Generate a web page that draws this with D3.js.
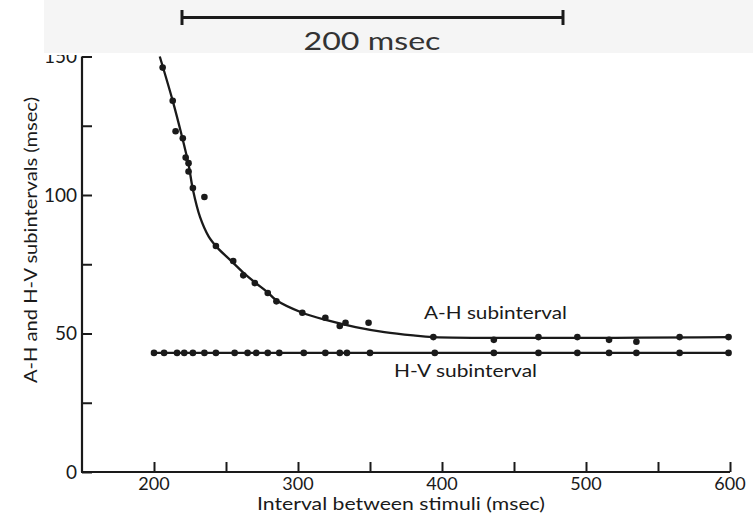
<!DOCTYPE html>
<html><head><meta charset="utf-8">
<script src="https://cdn.jsdelivr.net/npm/d3@7"></script>
<style>body{margin:0;background:#fff;overflow:hidden}</style>
</head><body>
<script>
// ---- data ----
const xTicks = [200, 250, 300, 350, 400, 450, 500, 550, 600];
const xTickLabels = [200, 300, 400, 500, 600];
const yTicks = [0, 25, 50, 75, 100, 125, 150];
const yTickLabels = [0, 50, 100, 150];

const ahX = [206, 213, 215, 220, 222, 224, 224, 227, 235, 243, 255, 262, 270, 279, 285, 303, 319, 329, 333, 349, 394, 436, 467, 494, 516, 535, 565, 599];
const ahY = [146, 134, 123, 120.5, 113.5, 111.5, 108.5, 102.5, 99.3, 81.6, 76.2, 71, 68.2, 64.6, 61.6, 57.5, 55.7, 52.7, 53.9, 53.9, 48.7, 47.7, 48.7, 48.7, 47.7, 47, 48.7, 48.7];

const hvX = [200, 207, 216, 221, 227, 235, 243, 256, 265, 271, 279, 287, 304, 319, 329, 334, 350, 395, 436, 467, 494, 516, 535, 565, 599];
const hvY = [43, 43, 43, 43, 43, 43, 43, 43, 43, 43, 43, 43, 43, 43, 43, 43, 43, 43, 43, 43, 43, 43, 43, 43, 43];

// fitted A-H curve
const fitX = [204, 213, 219, 224, 227, 232, 238, 244, 255, 262, 270, 279, 285, 303, 320, 340, 360, 380, 394, 600];
const fitY = [150, 134, 122, 111, 102, 92, 85, 81, 75.5, 72, 68.5, 64.8, 62, 57.5, 54.8, 52.3, 50.5, 49.3, 48.7, 48.7];

const W = 753, H = 517;
const FONT = "Lato, 'Open Sans', sans-serif";
const INK = "#1a1a1a";

const svg = d3.select("body").append("svg").attr("width", W).attr("height", H);

const x = d3.scaleLinear().domain([150, 600]).range([82, 730]);
const y = d3.scaleLinear().domain([0, 150]).range([472, 56.5]);

const defs = svg.append("defs");
defs.append("clipPath").attr("id", "topclip")
  .append("rect").attr("x", 0).attr("y", 55).attr("width", W).attr("height", H);

// ---- top banner with scale bar ----
svg.append("rect").attr("x", 44).attr("y", 0).attr("width", W - 44).attr("height", 53).attr("fill", "#f5f5f5");
const bar = svg.append("g").attr("stroke", INK).attr("stroke-width", 3);
bar.append("line").attr("x1", 182).attr("x2", 563).attr("y1", 17.5).attr("y2", 17.5);
bar.append("line").attr("x1", 182).attr("x2", 182).attr("y1", 10).attr("y2", 25);
bar.append("line").attr("x1", 563).attr("x2", 563).attr("y1", 10).attr("y2", 25);
svg.append("text").attr("x", 372).attr("y", 50).attr("text-anchor", "middle")
  .attr("font-family", FONT).attr("font-size", 25).attr("fill", "#333")
  .attr("textLength", 137).attr("lengthAdjust", "spacingAndGlyphs")
  .text("200 msec");

// ---- axes ----
const axG = svg.append("g");
// y axis
const yAxis = d3.axisRight(y).tickValues(yTicks).tickSize(10).tickFormat("");
const gy = axG.append("g").attr("transform", "translate(82,0)").call(yAxis);
gy.select(".domain").attr("d", `M0,${y(150)}V${y(0)}`).attr("stroke", INK).attr("stroke-width", 2.2);
gy.selectAll(".tick line").attr("stroke", INK).attr("stroke-width", 2);
axG.append("g").attr("clip-path", "url(#topclip)").selectAll("text.ylab").data(yTickLabels).join("text")
  .attr("x", 77).attr("y", d => y(d)).attr("dy", "0.36em").attr("text-anchor", "end")
  .attr("font-family", FONT).attr("font-size", 19).attr("fill", INK).text(d => d);

// x axis
const xAxis = d3.axisTop(x).tickValues(xTicks).tickSize(10).tickFormat("");
const gx = axG.append("g").attr("transform", `translate(0,${y(0)})`).call(xAxis);
gx.select(".domain").attr("d", `M${x(150) - 1},0H${x(600)}`).attr("stroke", INK).attr("stroke-width", 2.2);
gx.selectAll(".tick line").attr("stroke", INK).attr("stroke-width", 2);
axG.selectAll("text.xlab").data(xTickLabels).join("text")
  .attr("x", d => x(d)).attr("y", y(0) + 18).attr("text-anchor", "middle")
  .attr("font-family", FONT).attr("font-size", 18).attr("fill", INK).text(d => d);

// axis titles
svg.append("text").attr("x", 401).attr("y", 510).attr("text-anchor", "middle")
  .attr("font-family", FONT).attr("font-size", 17).attr("fill", INK)
  .attr("textLength", 288).attr("lengthAdjust", "spacingAndGlyphs")
  .text("Interval between stimuli (msec)");
svg.append("text").attr("transform", "translate(37,240) rotate(-90)").attr("text-anchor", "middle")
  .attr("font-family", FONT).attr("font-size", 17).attr("fill", INK)
  .attr("textLength", 286).attr("lengthAdjust", "spacingAndGlyphs")
  .text("A-H and H-V subintervals (msec)");

// ---- lines ----
const fit = fitX.map((d, i) => [d, fitY[i]]);
const line = d3.line().x(d => x(d[0])).y(d => y(d[1])).curve(d3.curveCatmullRom.alpha(0.5));
svg.append("path").datum(fit).attr("d", line).attr("fill", "none").attr("stroke", INK).attr("stroke-width", 2.3)
  .attr("clip-path", "url(#topclip)");

const hv = hvX.map((d, i) => [d, hvY[i]]);
svg.append("path").datum(hv).attr("d", d3.line().x(d => x(d[0])).y(d => y(d[1])))
  .attr("fill", "none").attr("stroke", INK).attr("stroke-width", 2.2);

// ---- points ----
const ah = ahX.map((d, i) => [d, ahY[i]]);
svg.append("g").selectAll("circle").data(ah).join("circle")
  .attr("cx", d => x(d[0])).attr("cy", d => y(d[1])).attr("r", 3.3).attr("fill", INK);
svg.append("g").selectAll("circle").data(hv).join("circle")
  .attr("cx", d => x(d[0])).attr("cy", d => y(d[1])).attr("r", 3.3).attr("fill", INK);

// ---- series labels ----
svg.append("text").attr("x", 424).attr("y", 319).attr("font-family", FONT).attr("font-size", 17).attr("fill", INK)
  .attr("textLength", 143).attr("lengthAdjust", "spacingAndGlyphs").text("A-H subinterval");
svg.append("text").attr("x", 394).attr("y", 377).attr("font-family", FONT).attr("font-size", 17).attr("fill", INK)
  .attr("textLength", 143).attr("lengthAdjust", "spacingAndGlyphs").text("H-V subinterval");
</script>
</body></html>
